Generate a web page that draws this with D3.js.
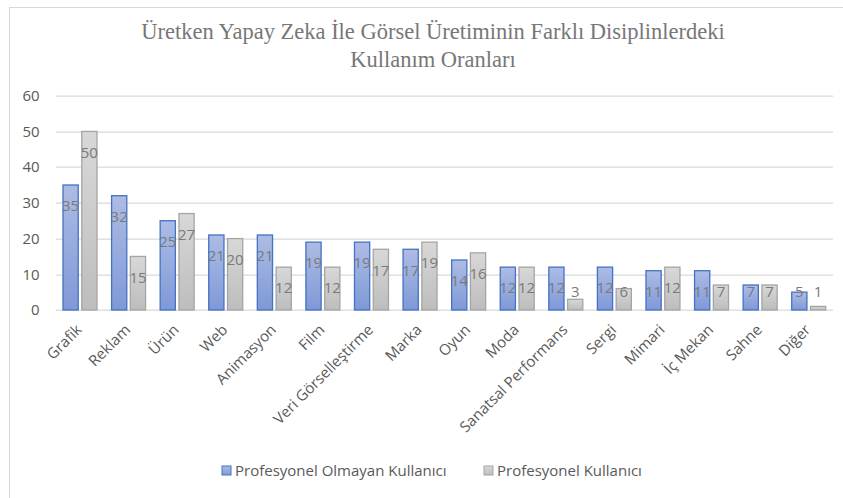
<!DOCTYPE html>
<html>
<head>
<meta charset="utf-8">
<script src="https://cdn.jsdelivr.net/npm/d3@7"></script>
<style>
  body { margin: 0; background: #fff; }
  text { font-family: "Open Sans", "Noto Sans", sans-serif; }
</style>
</head>
<body>
<div id="chart-area"></div>
<script>
// data
var categories = ["Grafik", "Reklam", "Ürün", "Web", "Animasyon", "Film", "Veri Görselleştirme",
  "Marka", "Oyun", "Moda", "Sanatsal Performans", "Sergi", "Mimari", "İç Mekan", "Sahne", "Diğer"];
var seriesNames = ["Profesyonel Olmayan Kullanıcı", "Profesyonel Kullanıcı"];
var amateurValues = [35, 32, 25, 21, 21, 19, 19, 17, 14, 12, 12, 12, 11, 11, 7, 5];
var proValues = [50, 15, 27, 20, 12, 12, 17, 19, 16, 12, 3, 6, 12, 7, 7, 1];
var yTicks = [0, 10, 20, 30, 40, 50, 60];
var titleLines = ["Üretken Yapay Zeka İle Görsel Üretiminin Farklı Disiplinlerdeki", "Kullanım Oranları"];

var W = 843, H = 498;
var margin = { left: 55.7, right: 10, top: 95.7, bottom: 188 };
var width = W - margin.left - margin.right;
var height = H - margin.top - margin.bottom;

var svg = d3.select("#chart-area").append("svg")
  .attr("width", W)
  .attr("height", H);

// gradients
var defs = svg.append("defs");
function grad(id, c1, c2) {
  var lg = defs.append("linearGradient").attr("id", id)
    .attr("x1", 0).attr("y1", 0).attr("x2", 0).attr("y2", 1);
  lg.append("stop").attr("offset", "0%").attr("stop-color", c1);
  lg.append("stop").attr("offset", "100%").attr("stop-color", c2);
}
grad("gBlue", "#adbce4", "#7f99d7");
grad("gGray", "#d8d8d8", "#bdbdbd");
var fills = ["url(#gBlue)", "url(#gGray)"];
var strokes = ["#4472c4", "#a5a5a5"];

// chart border
svg.append("rect")
  .attr("x", 9.5).attr("y", 7.5)
  .attr("width", W + 20).attr("height", H + 20)
  .attr("fill", "none")
  .attr("stroke", "#d9d9d9");

// title
svg.append("g").selectAll("text")
  .data(titleLines)
  .enter()
  .append("text")
  .attr("x", 433)
  .attr("y", function(d, i) { return 39 + i * 27.5; })
  .attr("text-anchor", "middle")
  .style("font-family", "'Liberation Serif', 'Times New Roman', serif")
  .attr("font-size", "22.5px")
  .attr("fill", "#777777")
  .text(function(d) { return d; });

var g = svg.append("g")
  .attr("transform", "translate(" + margin.left + "," + margin.top + ")");

// scales
var x0 = d3.scaleBand()
  .domain(categories)
  .range([0, width])
  .paddingInner(0)
  .paddingOuter(0);

var x1 = d3.scaleBand()
  .domain([0, 1])
  .range([7.3, x0.bandwidth() - 7.3])
  .paddingInner(0.19);

var y = d3.scaleLinear()
  .domain([0, 60])
  .range([height, 0]);

// grid
g.append("g")
  .selectAll("line")
  .data(yTicks)
  .enter()
  .append("line")
  .attr("x1", 0)
  .attr("x2", width)
  .attr("y1", function(d) { return Math.round(y(d)) + 0.5; })
  .attr("y2", function(d) { return Math.round(y(d)) + 0.5; })
  .attr("stroke", "#d9d9d9")
  .attr("stroke-width", 1.2);

// Y Axis
var yAxisCall = d3.axisLeft(y).tickValues(yTicks).tickSize(0).tickPadding(16);
var yAxis = g.append("g").call(yAxisCall);
yAxis.select(".domain").remove();
yAxis.selectAll("text")
  .attr("font-size", "15px")
  .attr("fill", "#595959")
  .style("font-family", "'Open Sans', sans-serif");

// X Axis labels
g.append("g")
  .selectAll("text")
  .data(categories)
  .enter()
  .append("text")
  .attr("transform", function(d) {
    return "translate(" + (x0(d) + x0.bandwidth() / 2 - 1) + "," + (height + 17) + ") rotate(-45)";
  })
  .attr("text-anchor", "end")
  .attr("dy", "0.35em")
  .attr("font-size", "15px")
  .attr("fill", "#595959")
  .text(function(d) { return d; });

// bars
var rows = categories.map(function(c, i) {
  return { cat: c, vals: [amateurValues[i], proValues[i]] };
});

var groups = g.selectAll(".grp")
  .data(rows)
  .enter()
  .append("g")
  .attr("class", "grp")
  .attr("transform", function(d) { return "translate(" + x0(d.cat) + ",0)"; });

groups.selectAll("rect")
  .data(function(d) { return d.vals.map(function(v, k) { return { k: k, v: v }; }); })
  .enter()
  .append("rect")
  .attr("x", function(d) { return x1(d.k); })
  .attr("y", function(d) { return y(d.v); })
  .attr("width", x1.bandwidth())
  .attr("height", function(d) { return height - y(d.v); })
  .attr("fill", function(d) { return fills[d.k]; })
  .attr("stroke", function(d) { return strokes[d.k]; })
  .attr("stroke-width", 1.3);

// value labels
groups.selectAll(".lbl")
  .data(function(d) { return d.vals.map(function(v, k) { return { k: k, v: v }; }); })
  .enter()
  .append("text")
  .attr("class", "lbl")
  .attr("x", function(d) { return x1(d.k) + x1.bandwidth() / 2; })
  .attr("y", function(d) { return Math.min(y(d.v) + 21, height - 18); })
  .attr("dy", "0.35em")
  .attr("text-anchor", "middle")
  .attr("font-size", "15px")
  .attr("fill", "#7a7a7a")
  .text(function(d) { return d.v; });

// legend
var legendX = [222, 484];
var legend = svg.append("g").selectAll("g")
  .data(seriesNames)
  .enter()
  .append("g")
  .attr("transform", function(d, i) { return "translate(" + legendX[i] + ",466)"; });

legend.append("rect")
  .attr("width", 9).attr("height", 9)
  .attr("fill", function(d, i) { return fills[i]; })
  .attr("stroke", function(d, i) { return strokes[i]; });

legend.append("text")
  .attr("x", 13)
  .attr("y", 4.5)
  .attr("dy", "0.35em")
  .attr("font-size", "15px")
  .attr("fill", "#595959")
  .text(function(d) { return d; });
</script>
</body>
</html>
